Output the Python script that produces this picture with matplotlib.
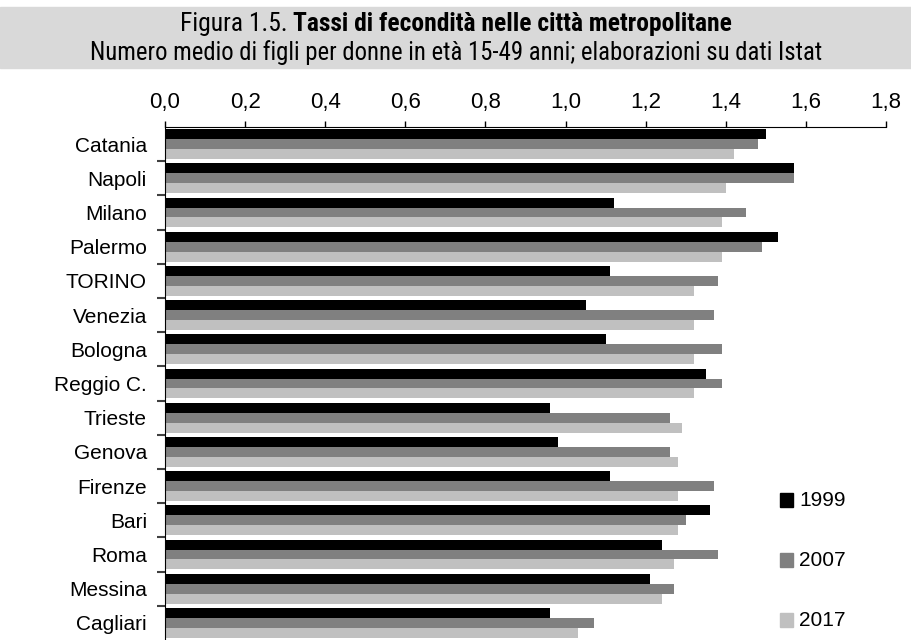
import matplotlib
matplotlib.use('Agg')
import matplotlib.pyplot as plt
from matplotlib.ticker import FuncFormatter, FixedLocator
from matplotlib.patches import Rectangle
import numpy as np

cities = ['Catania', 'Napoli', 'Milano', 'Palermo', 'TORINO', 'Venezia', 'Bologna',
          'Reggio C.', 'Trieste', 'Genova', 'Firenze', 'Bari', 'Roma', 'Messina', 'Cagliari']
years = ['1999', '2007', '2017']
v1999 = [1.50, 1.57, 1.12, 1.53, 1.11, 1.05, 1.10, 1.35, 0.96, 0.98, 1.11, 1.36, 1.24, 1.21, 0.96]
v2007 = [1.48, 1.57, 1.45, 1.49, 1.38, 1.37, 1.39, 1.39, 1.26, 1.26, 1.37, 1.30, 1.38, 1.27, 1.07]
v2017 = [1.42, 1.40, 1.39, 1.39, 1.32, 1.32, 1.32, 1.32, 1.29, 1.28, 1.28, 1.28, 1.27, 1.24, 1.03]
colors = ['#000000', '#808080', '#c0c0c0']

narrow = 'Roboto Condensed'
W, H = 912, 640
fig = plt.figure(figsize=(W / 100, H / 100), dpi=100)
fig.patches.append(Rectangle((0, 1 - 68 / H), 1, 61 / H, transform=fig.transFigure,
                             color='#d9d9d9', zorder=0))

ax = fig.add_axes([165 / W, 0, (886 - 165) / W, 1 - 127 / H])
y = np.arange(len(cities))
bh = 0.29
for i, vals in enumerate([v1999, v2007, v2017]):
    ax.barh(y + (i - 1) * bh, vals, height=bh, color=colors[i], label=years[i])

ax.set_xlim(0, 1.8)
ax.set_ylim(len(cities) - 0.5, -0.5)
ax.xaxis.tick_top()
ax.set_xticks(np.arange(0, 1.81, 0.2))
ax.xaxis.set_major_formatter(FuncFormatter(lambda v, p: ('%.1f' % v).replace('.', ',')))
ax.tick_params(axis='x', direction='out', length=4, width=1, pad=6, labelsize=16)
for lab in ax.get_xticklabels():
    lab.set_fontfamily('Liberation Sans')

ax.set_yticks(y)
ax.set_yticklabels(cities, fontsize=15, fontfamily='Liberation Sans')
ax.tick_params(axis='y', which='major', length=0, pad=13)
ax.yaxis.set_minor_locator(FixedLocator(np.arange(0.5, len(cities) - 1, 1)))
ax.tick_params(axis='y', which='minor', length=6, width=1.5, color='#404040')
ax.spines['right'].set_visible(False)
ax.spines['bottom'].set_visible(False)

# legend entries stacked by hand, as in the original
for i, yr in enumerate(years):
    yy = 1 - (500 + 60 * i) / H
    fig.patches.append(Rectangle((780 / W, yy - 7 / H), 13 / W, 14 / H, transform=fig.transFigure,
                                 color=colors[i]))
    fig.text(799 / W, yy, yr, fontsize=15, fontfamily='Liberation Sans', va='center', ha='left')

# title: regular + bold pieces on one line, then the subtitle
r = fig.canvas.get_renderer()
sub = fig.text(0.5, 1 - 53 / H, 'Numero medio di figli per donne in età 15-49 anni; elaborazioni su dati Istat',
               fontsize=16, fontfamily=narrow, ha='center', va='center')
sub.set_fontsize(16 * 735 / sub.get_window_extent(r).width)

t1 = fig.text(0, 1 - 24 / H, 'Figura 1.5. ', fontsize=16, fontfamily=narrow, va='center')
t2 = fig.text(0, 1 - 24 / H, 'Tassi di fecondità nelle città metropolitane', fontsize=16,
              fontfamily=narrow, fontweight='bold', va='center')
w1 = t1.get_window_extent(r).width
w2 = t2.get_window_extent(r).width
fs = 16 * 552 / (w1 + w2)
t1.set_fontsize(fs)
t2.set_fontsize(fs)
w1 = t1.get_window_extent(r).width
w2 = t2.get_window_extent(r).width
x0 = (W - w1 - w2) / 2
t1.set_x(x0 / W)
t2.set_x((x0 + w1) / W)

fig.savefig('out.png', dpi=100)
